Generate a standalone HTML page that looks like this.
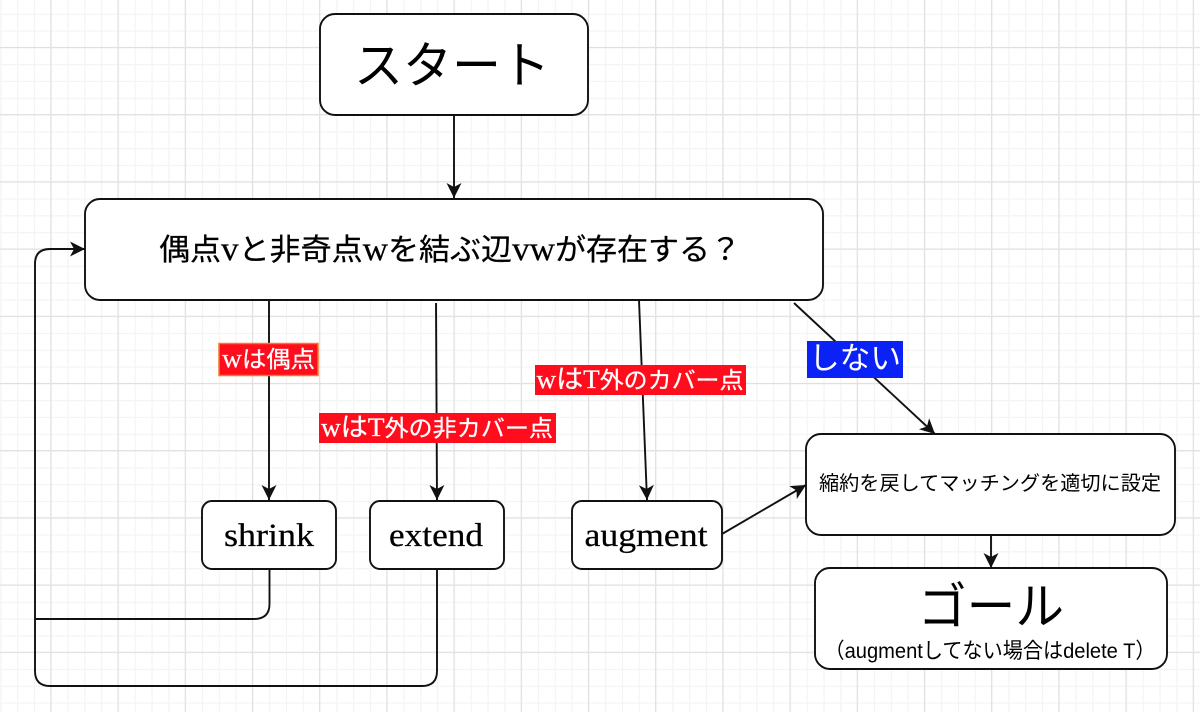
<!DOCTYPE html>
<html lang="ja"><head><meta charset="utf-8">
<style>
html,body{margin:0;padding:0;background:#fff}
svg{display:block}
.s{font-family:"Liberation Serif","Noto Sans CJK JP",serif;stroke:#000;stroke-width:.25}
.h{font-family:"Liberation Sans","Noto Sans CJK JP",sans-serif}
text{fill:#000;text-anchor:middle}
.w{fill:#fff;stroke:#fff}
.box{fill:#fff;stroke:#111;stroke-width:1.9}
.l{fill:none;stroke:#111;stroke-width:1.9}
</style></head><body>
<svg width="1200" height="712" viewBox="0 0 1200 712" xmlns="http://www.w3.org/2000/svg">
<defs>
<pattern id="minor" width="16.8" height="16.8" patternUnits="userSpaceOnUse" x="0.3" y="13.7">
<path d="M0 0V16.8M0 0H16.8" stroke="#f3f3f3" stroke-width="1.2" fill="none" transform="translate(.5 .5)"/>
</pattern>
<pattern id="major" width="67.2" height="67.2" patternUnits="userSpaceOnUse" x="50.3" y="46.9">
<path d="M0 0V67.2M0 0H67.2" stroke="#dfdfdf" stroke-width="1.2" fill="none" transform="translate(.5 .5)"/>
</pattern>
<marker id="m" markerUnits="userSpaceOnUse" markerWidth="18" markerHeight="18" refX="15" refY="8" orient="auto">
<path d="M0 .5L15 8L0 15.500L4 8Z" fill="#111"/>
</marker>
</defs>
<rect width="1200" height="712" fill="#fff"/>
<rect width="1200" height="712" fill="url(#minor)"/>
<rect width="1200" height="712" fill="url(#major)"/>

<path class="l" d="M454 115V198" marker-end="url(#m)"/>
<path class="l" d="M269 300V500" marker-end="url(#m)"/>
<path class="l" d="M436 303L437 500" marker-end="url(#m)"/>
<path class="l" d="M639 300L647 500" marker-end="url(#m)"/>
<path class="l" d="M794 303L935 434" marker-end="url(#m)"/>
<path class="l" d="M722 534L806 485" marker-end="url(#m)"/>
<path class="l" d="M991 535V568" marker-end="url(#m)"/>
<path class="l" d="M269.500 569V604Q269.500 619 254 619H35"/>
<path class="l" d="M437 569V671Q437 686 422 686H50Q35 686 35 671V264Q35 249 50 249H85" marker-end="url(#m)"/>

<rect class="box" x="320" y="14" width="268" height="101" rx="15"/>
<rect class="box" x="85" y="199" width="738" height="101" rx="15"/>
<rect class="box" x="202" y="501" width="134" height="68" rx="10"/>
<rect class="box" x="370" y="501" width="134" height="68" rx="10"/>
<rect class="box" x="572" y="501" width="150" height="68" rx="10"/>
<rect class="box" x="806" y="434" width="369" height="101" rx="15"/>
<rect class="box" x="815" y="568" width="352" height="101" rx="15"/>

<text class="h" x="452" y="83" font-size="50" textLength="196" lengthAdjust="spacingAndGlyphs">スタート</text>
<text class="s" x="450" y="260" font-size="30" textLength="582" lengthAdjust="spacingAndGlyphs">偶点<tspan font-size="34">v</tspan>と非奇点<tspan font-size="34">w</tspan>を結ぶ辺<tspan font-size="34">vw</tspan>が存在する？</text>
<text class="s" x="269" y="546" font-size="33" textLength="90" lengthAdjust="spacingAndGlyphs">shrink</text>
<text class="s" x="436" y="546" font-size="33" textLength="94" lengthAdjust="spacingAndGlyphs">extend</text>
<text class="s" x="646" y="546" font-size="33" textLength="123" lengthAdjust="spacingAndGlyphs">augment</text>
<text class="h" x="990" y="490" font-size="20" textLength="342" lengthAdjust="spacingAndGlyphs">縮約を戻してマッチングを適切に設定</text>
<text class="h" x="991" y="624" font-size="50" textLength="146" lengthAdjust="spacingAndGlyphs">ゴール</text>
<text class="h" x="990" y="658" font-size="21.500" textLength="331" lengthAdjust="spacingAndGlyphs">（augmentしてない場合はdelete T）</text>

<rect x="219" y="343.500" width="99" height="32" fill="#ff0d1d" stroke="#f47a2a" stroke-width="1.500"/>
<text class="s w" x="268.500" y="367" font-size="23" textLength="93" lengthAdjust="spacingAndGlyphs"><tspan font-size="26">w</tspan>は偶点</text>
<rect x="319" y="413" width="237" height="30" fill="#ff0d1d"/>
<text class="s w" x="437" y="436" font-size="23" textLength="232" lengthAdjust="spacingAndGlyphs"><tspan font-size="26">wはT</tspan>外の非カバー点</text>
<rect x="535" y="365" width="211" height="30" fill="#ff0d1d"/>
<text class="s w" x="640" y="388" font-size="23" textLength="207" lengthAdjust="spacingAndGlyphs"><tspan font-size="26">wはT</tspan>外のカバー点</text>
<rect x="807" y="341" width="96" height="37" fill="#0a22f5"/>
<text class="h" x="855" y="369" font-size="31" style="fill:#fff" textLength="92" lengthAdjust="spacingAndGlyphs">しない</text>
</svg>
</body></html>
